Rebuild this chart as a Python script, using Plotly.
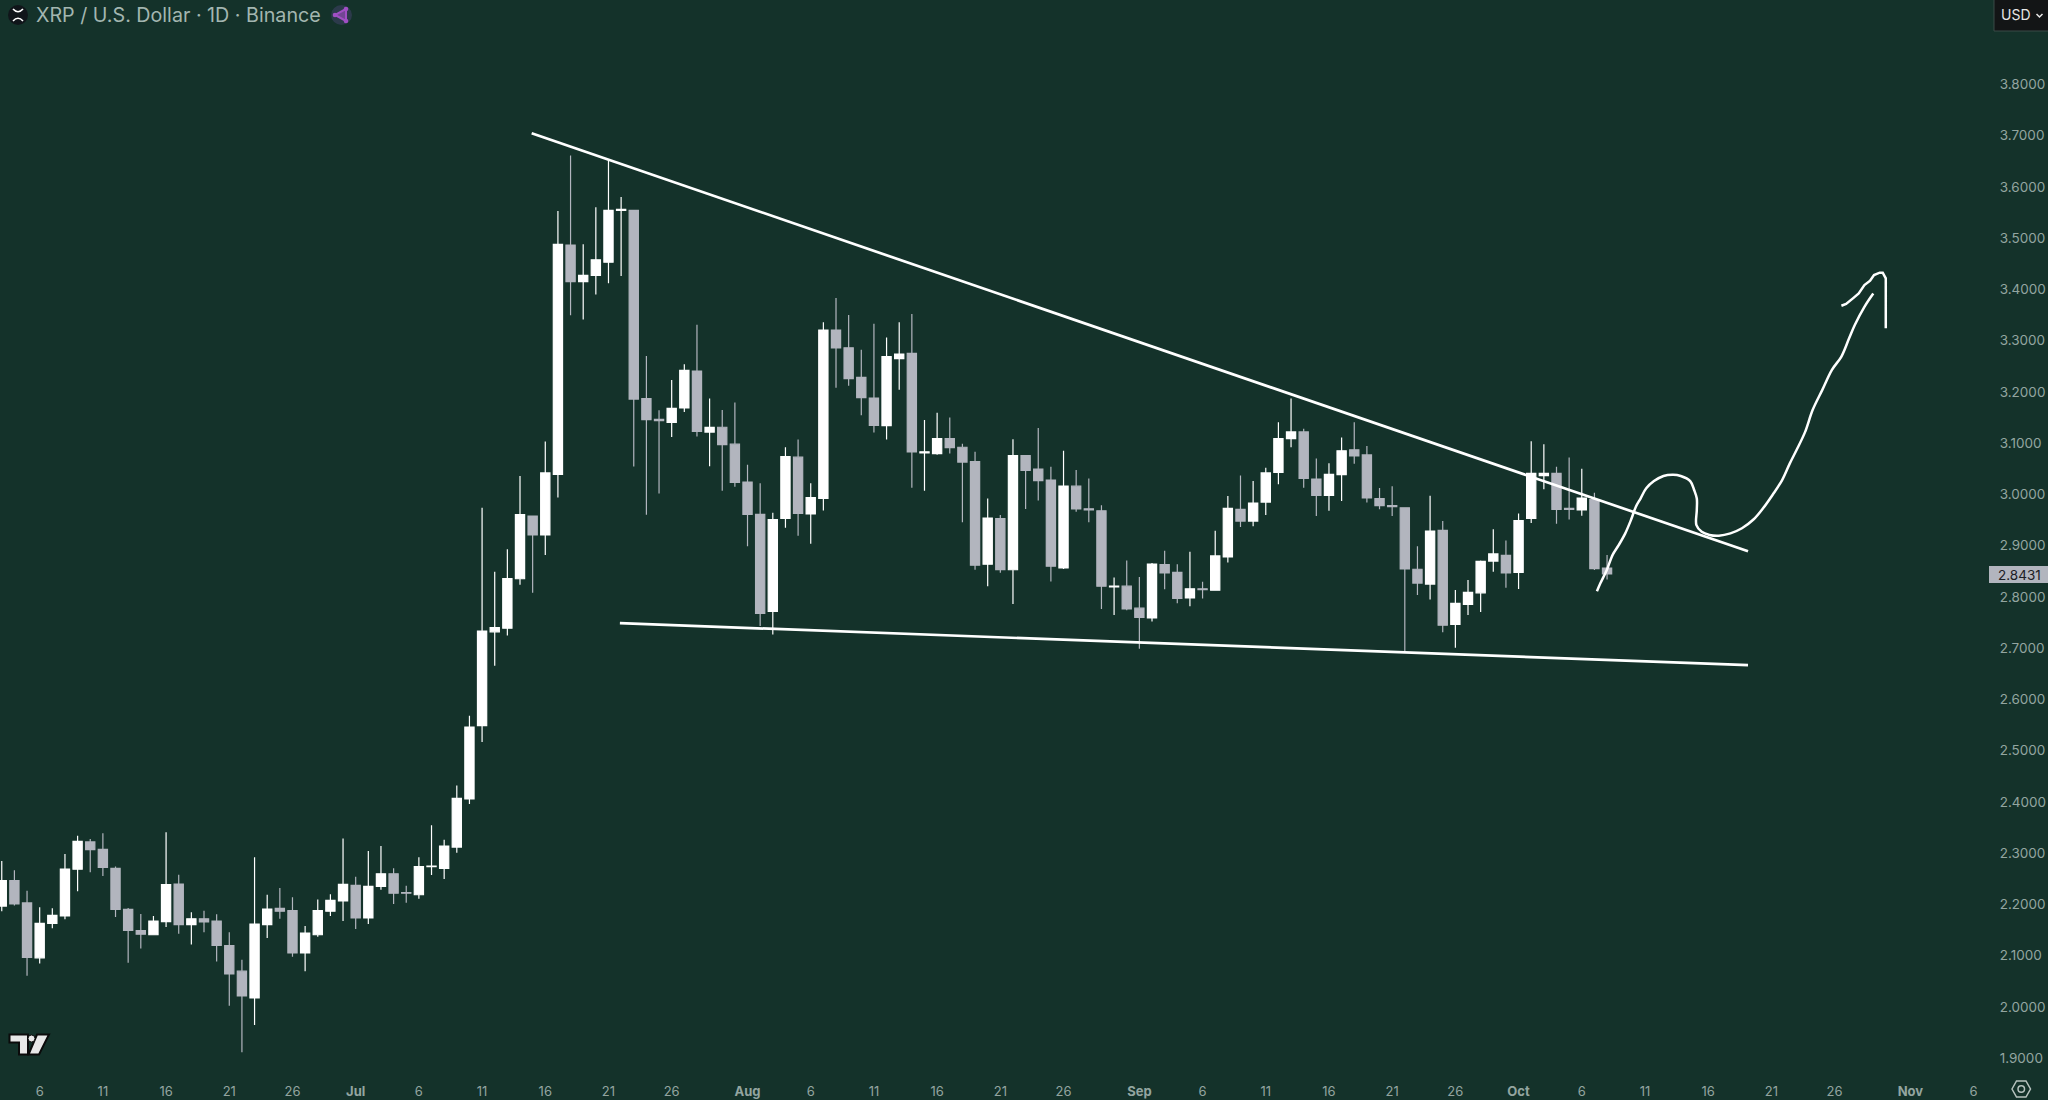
import plotly.graph_objects as go
import pandas as pd

# ---- chart values ----
first_day = "2025-06-03"
opens = [
 2.195,2.2445,2.201,2.094,2.161,2.1756,2.267,2.320,2.3056,2.2686,2.1886,2.147,2.139,2.1645,2.238,2.1587,2.170,2.1658,2.118,2.068,2.0156,2.1587,2.1905,2.186,2.1034,2.139,2.185,2.205,
 2.2354,2.1717,2.2335,2.258,2.221,2.217,2.272,2.2686,2.310,2.404,2.547,2.730,2.737,2.8335,2.9558,2.919,3.037,3.4845,3.413,3.4254,3.451,3.552,3.552,3.185,3.1446,3.1385,3.1667,3.2386,3.1197,3.129,3.096,
 3.022,2.959,2.770,2.951,3.0707,2.960,2.990,3.3186,3.284,3.2265,3.186,3.132,3.263,3.273,3.079,3.0775,3.107,3.090,3.062,2.862,2.951,2.851,3.0736,3.0476,3.026,2.8545,3.014,2.970,2.966,2.8174,2.819,
 2.776,2.757,2.861,2.846,2.796,2.814,2.811,2.876,2.969,2.946,2.983,3.041,3.107,3.120,3.028,2.996,3.0366,3.085,3.075,2.990,2.976,2.972,2.852,2.823,2.928,2.7445,2.7835,2.806,2.868,2.879,
 2.846,2.951,3.0346,3.039,2.971,2.9676,2.988,2.8544]
closes = [
 2.2445,2.199,2.095,2.161,2.177,2.267,2.321,2.305,2.2705,2.1886,2.1476,2.140,2.1658,2.2367,2.1587,2.170,2.164,2.118,2.0624,2.0195,2.160,2.189,2.185,2.1034,2.142,2.186,2.206,2.2374,
 2.1717,2.2335,2.258,2.220,2.220,2.272,2.273,2.312,2.405,2.544,2.7314,2.738,2.834,2.9585,2.919,3.040,3.486,3.413,3.4254,3.4556,3.552,3.554,3.184,3.144,3.142,3.166,3.240,3.121,3.129,3.095,3.0216,
 2.959,2.766,2.949,3.072,2.961,2.992,3.3186,3.284,3.224,3.187,3.1325,3.267,3.2715,3.081,3.081,3.107,3.089,3.061,2.860,2.952,2.851,3.0736,3.045,3.025,2.858,3.014,2.9696,2.968,2.819,2.819,2.7745,
 2.758,2.862,2.845,2.795,2.814,2.812,2.878,2.971,2.946,2.981,3.040,3.107,3.120,3.029,2.996,3.037,3.083,3.073,2.991,2.976,2.974,2.8525,2.825,2.9266,2.743,2.7855,2.807,2.8674,2.882,2.845,
 2.947,3.039,3.039,2.969,2.969,2.991,2.853,2.843]
highs = [
 2.283,2.265,2.225,2.1925,2.1905,2.2965,2.332,2.326,2.337,2.272,2.191,2.1795,2.1756,2.339,2.256,2.183,2.186,2.179,2.144,2.090,2.290,2.217,2.230,2.212,2.156,2.208,2.218,2.327,
 2.2523,2.3024,2.312,2.2686,2.2348,2.290,2.3525,2.3245,2.430,2.566,2.972,2.847,2.891,3.034,2.9565,3.101,3.551,3.659,3.486,3.558,3.6505,3.578,3.553,3.268,3.162,3.221,3.252,3.329,3.185,3.1627,3.1775,
 3.056,3.020,2.962,3.090,3.105,3.020,3.334,3.381,3.348,3.280,3.331,3.304,3.334,3.350,3.143,3.1575,3.148,3.097,3.081,2.990,2.958,3.1055,3.074,3.1276,3.052,3.083,3.0457,3.029,2.977,2.836,2.869,
 2.837,2.864,2.888,2.862,2.886,2.8278,2.927,2.995,3.035,3.024,3.050,3.139,3.185,3.126,3.068,3.059,3.109,3.139,3.0925,3.0105,3.014,2.973,2.897,2.9956,2.946,2.8115,2.831,2.869,2.930,2.908,
 2.961,3.1015,3.096,3.052,3.070,3.048,3.0014,2.880]
lows = [
 2.185,2.196,2.059,2.083,2.1515,2.169,2.224,2.261,2.2536,2.1736,2.0846,2.112,2.138,2.154,2.141,2.120,2.144,2.087,2.0007,1.910,1.963,2.1327,2.170,2.096,2.068,2.135,2.1756,2.1658,
 2.150,2.160,2.227,2.199,2.2016,2.2094,2.2556,2.2478,2.299,2.394,2.515,2.664,2.7226,2.822,2.806,2.880,2.992,3.3475,3.339,3.388,3.410,3.424,3.0525,2.9585,3.000,3.110,3.159,3.111,3.053,3.005,3.013,
 2.897,2.7415,2.7247,2.933,2.9175,2.902,2.9665,3.206,3.210,3.1526,3.119,3.105,3.202,3.011,3.005,3.0756,3.078,2.9436,2.851,2.819,2.845,2.784,2.9696,2.986,2.828,2.8525,2.964,2.9436,2.7745,2.763,2.772,
 2.697,2.750,2.813,2.7856,2.780,2.795,2.810,2.865,2.9345,2.936,2.958,3.018,3.090,3.011,2.956,2.966,2.985,3.058,2.982,2.969,2.956,2.692,2.802,2.793,2.729,2.699,2.763,2.7686,2.847,2.816,
 2.8135,2.942,3.008,2.941,2.949,2.9565,2.8505,2.832]

upper_line_dates = ["2025-07-14 22:10", "2025-10-19 03:40"]
upper_line_prices = [3.7025, 2.887]
lower_line_dates = ["2025-07-21 21:40", "2025-10-19 03:40"]
lower_line_prices = [2.7468, 2.665]

sketch_days = [98.20,98.47,98.98,99.44,99.92,100.44,100.89,101.28,101.65,102.10,102.71,103.46,104.22,104.83,105.58,105.89,106.10,106.10,106.07,106.49,107.10,107.85,108.76,109.67,110.58,111.34,112.09,112.85,113.46,114.06,114.67,115.27,116.03,116.79,117.54,118.15,118.60,119.36,120.06]
sketch_prices = [2.809,2.8245,2.8505,2.880,2.899,2.922,2.948,2.974,2.990,3.010,3.024,3.034,3.0365,3.034,3.024,3.0066,2.990,2.9676,2.938,2.925,2.919,2.9175,2.922,2.932,2.949,2.971,2.997,3.026,3.0586,3.088,3.120,3.163,3.202,3.241,3.267,3.3025,3.3285,3.364,3.390]
arrow_days = [117.54,117.91,118.45,118.91,119.36,119.81,120.12,120.57,120.81,121.05,121.05]
arrow_prices = [3.366,3.3695,3.3805,3.390,3.4065,3.415,3.426,3.4306,3.4306,3.4195,3.322]

price_ticks = [1.9,2.0,2.1,2.2,2.3,2.4,2.5,2.6,2.7,2.8,2.9,3.0,3.1,3.2,3.3,3.4,3.5,3.6,3.7,3.8]
date_ticks = ["2025-06-06","2025-06-11","2025-06-16","2025-06-21","2025-06-26","2025-07-01","2025-07-06","2025-07-11","2025-07-16","2025-07-21","2025-07-26","2025-08-01","2025-08-06","2025-08-11","2025-08-16","2025-08-21","2025-08-26","2025-09-01","2025-09-06","2025-09-11","2025-09-16","2025-09-21","2025-09-26","2025-10-01","2025-10-06","2025-10-11","2025-10-16","2025-10-21","2025-10-26","2025-11-01","2025-11-06"]
date_labels = ["6","11","16","21","26","<b>Jul</b>","6","11","16","21","26","<b>Aug</b>","6","11","16","21","26","<b>Sep</b>","6","11","16","21","26","<b>Oct</b>","6","11","16","21","26","<b>Nov</b>","6"]
title_text = "XRP / U.S. Dollar · 1D · Binance"
last_price_text = "2.8431"

# ---- style ----
BG = "#14322a"
UP = "#ffffff"
DOWN = "#b2b5be"
AXIS_TXT = "#93a5a0"
FONT = "Inter"
PLOT_W, PLOT_H = 1990, 1075

dates = pd.date_range(first_day, periods=len(opens), freq="D")
jul1 = pd.Timestamp("2025-07-01")
to_dates = lambda days: [jul1 + pd.Timedelta(days=float(d)) for d in days]

def X(x): return x / PLOT_W
def Y(y): return 1 - y / PLOT_H
def path(points, close=True):
    s = "M " + " L ".join(f"{X(a):.5f},{Y(b):.5f}" for a, b in points)
    return s + (" Z" if close else "")

fig = go.Figure()
fig.add_trace(go.Candlestick(
    x=dates, open=opens, high=highs, low=lows, close=closes,
    increasing=dict(line=dict(color=UP, width=1.2), fillcolor=UP),
    decreasing=dict(line=dict(color=DOWN, width=1.2), fillcolor=DOWN),
    whiskerwidth=0, showlegend=False, hoverinfo="skip"))
for xs, ys, w, shape in [
    (upper_line_dates, upper_line_prices, 2.7, "linear"),
    (lower_line_dates, lower_line_prices, 2.7, "linear"),
    (to_dates(sketch_days), sketch_prices, 2.5, "spline"),
    (to_dates(arrow_days), arrow_prices, 2.5, "linear"),
]:
    fig.add_trace(go.Scatter(x=xs, y=ys, mode="lines", showlegend=False, hoverinfo="skip",
                             line=dict(color="#ffffff", width=w, shape=shape)))

shapes = []
paper = dict(xref="paper", yref="paper")
# symbol badge
shapes.append(dict(type="circle", x0=X(8), x1=X(28), y0=Y(25), y1=Y(5), fillcolor="#10151a", line_width=0, **paper))
shapes.append(dict(type="path", path="M %f,%f Q %f,%f %f,%f" % (X(13),Y(9),X(18),Y(14.5),X(23),Y(9)), line=dict(color="#fff", width=1.6), **paper))
shapes.append(dict(type="path", path="M %f,%f Q %f,%f %f,%f" % (X(13),Y(21),X(18),Y(15.5),X(23),Y(21)), line=dict(color="#fff", width=1.6), **paper))
# purple badge
shapes.append(dict(type="circle", x0=X(331), x1=X(352), y0=Y(25), y1=Y(5), fillcolor="#2c3a4b", line_width=0, **paper))
shapes.append(dict(type="path", path=path([(346,9),(335,15),(346,21)]), line=dict(color="#a04fc4", width=2), fillcolor="rgba(160,79,196,0.6)", **paper))
for cx, cy in [(346,9),(335,15),(346,21)]:
    shapes.append(dict(type="circle", x0=X(cx-2.3), x1=X(cx+2.3), y0=Y(cy+2.3), y1=Y(cy-2.3), fillcolor="#a04fc4", line_width=0, **paper))
# currency button
shapes.append(dict(type="rect", x0=X(1994), x1=X(2052), y0=Y(31), y1=Y(-4), fillcolor="#131516", line=dict(color="#3a4a46", width=1), **paper))
shapes.append(dict(type="path", path=path([(2036.5,14),(2039.5,17),(2042.5,14)], False), line=dict(color="#e6e6e6", width=1.5), **paper))
# last price tag
shapes.append(dict(type="rect", x0=X(1989), x1=X(2048), y0=Y(583), y1=Y(566), fillcolor="#b2b5be", line_width=0, **paper))
# logo
logo_t = [(9.5,1034.5),(28,1034.5),(28,1054.5),(19,1054.5),(19,1042.5),(9.5,1042.5)]
logo_s = [(37,1034.5),(49,1034.5),(39,1054.5),(28.5,1054.5)]
for pts in (logo_t, logo_s):
    shapes.append(dict(type="path", path=path(pts), fillcolor="#e8e8e8", line=dict(color="#0b0b0b", width=2), **paper))
shapes.append(dict(type="circle", x0=X(28), x1=X(35), y0=Y(1042), y1=Y(1035), fillcolor="#e8e8e8", line=dict(color="#0b0b0b", width=1), **paper))
# settings icon
shapes.append(dict(type="path", path=path([(2012,1089),(2016.5,1081),(2026,1081),(2030.5,1089),(2026,1097),(2016.5,1097)]), line=dict(color="#b7c3bf", width=1.5), **paper))
shapes.append(dict(type="circle", x0=X(2018), x1=X(2024.5), y0=Y(1092.3), y1=Y(1085.8), line=dict(color="#b7c3bf", width=1.5), **paper))

annotations = [
    dict(text=title_text, x=X(33.5), y=Y(15), xref="paper", yref="paper", xanchor="left", yanchor="middle",
         showarrow=False, font=dict(family=FONT, size=19.7, color="#a3b6b0")),
    dict(text="USD", x=X(1999), y=Y(15), xref="paper", yref="paper", xanchor="left", yanchor="middle",
         showarrow=False, font=dict(family=FONT, size=14, color="#e6e6e6")),
    dict(text=last_price_text, x=X(2043), y=Y(574.7), xref="paper", yref="paper", xanchor="right", yanchor="middle",
         showarrow=False, font=dict(family=FONT, size=13.5, color="#1c2024")),
]

fig.update_layout(
    width=2048, height=1100, autosize=False,
    margin=dict(l=0, r=2048 - PLOT_W, t=0, b=1100 - PLOT_H, pad=0),
    paper_bgcolor=BG, plot_bgcolor=BG, boxgap=0.27, boxgroupgap=0, boxmode="overlay",
    shapes=shapes, annotations=annotations,
    xaxis=dict(type="date", range=["2025-06-02 20:40", "2025-11-07 07:06"], rangeslider=dict(visible=False),
               tickmode="array", tickvals=date_ticks, ticktext=date_labels, tickangle=0,
               showgrid=False, zeroline=False, showline=False, ticks="outside", ticklen=4, tickcolor=BG,
               tickfont=dict(family=FONT, size=13, color=AXIS_TXT)),
    yaxis=dict(side="right", range=[1.8654, 3.9625], tickmode="array", tickvals=price_ticks,
               ticktext=[f"{v:.4f}" for v in price_ticks], showgrid=False, zeroline=False, showline=False,
               ticks="outside", ticklen=6, tickcolor=BG, ticklabelshift=1,
               tickfont=dict(family=FONT, size=13.5, color=AXIS_TXT)),
)
fig.write_html("out.html", config=dict(displayModeBar=False),
               post_script="document.body.style.margin='0';document.documentElement.style.overflow='hidden';")
